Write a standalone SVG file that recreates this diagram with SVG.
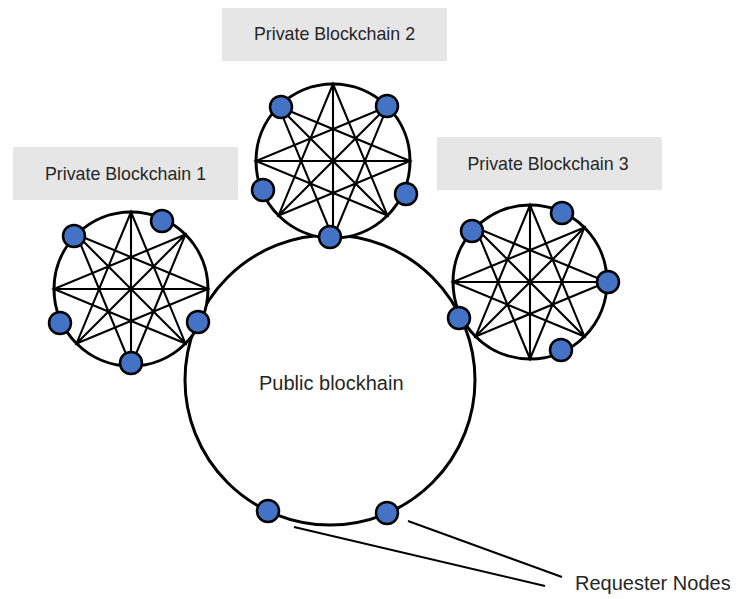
<svg xmlns="http://www.w3.org/2000/svg" xmlns:xlink="http://www.w3.org/1999/xlink" width="743" height="599" viewBox="0 0 743 599">
<style>
.ring{fill:#fff;stroke:#000;stroke-width:3}
.pub{fill:none;stroke:#000;stroke-width:3}
.star{fill:none;stroke:#000;stroke-width:2.1;stroke-linejoin:miter}
.node{fill:#4472c4;stroke:#000;stroke-width:2.5}
.box{fill:#e7e6e6}
.lbl{font-family:"Liberation Sans",Arial,sans-serif;font-size:17.8px;fill:#262626;text-anchor:middle}
.big{font-family:"Liberation Sans",Arial,sans-serif;font-size:20px;fill:#262626}
.conn{stroke:#000;stroke-width:2;fill:none}
</style>
<defs>
<g id="net">
<circle class="ring" cx="0" cy="0" r="77"/>
<path class="star" d="M77,0 L-54.45,-54.45 L0,77 L54.45,-54.45 L-77,0 L54.45,54.45 L0,-77 L-54.45,54.45 Z M77,0 H-77 M0,-77 V77 M54.45,-54.45 L-54.45,54.45 M-54.45,-54.45 L54.45,54.45"/>
</g>
</defs>
<rect width="743" height="599" fill="#fff"/>

<g id="public-blockchain">
<circle class="pub" cx="330" cy="380" r="145"/>
<text class="big" x="259" y="390">Public blockhain</text>
</g>

<g id="private-blockchain-1">
<rect class="box" x="13" y="147" width="225" height="53"/>
<text class="lbl" x="125.5" y="180">Private Blockchain 1</text>
<use xlink:href="#net" href="#net" x="131" y="289"/>
<circle class="node" cx="74" cy="236" r="11"/>
<circle class="node" cx="162" cy="221" r="11"/>
<circle class="node" cx="60" cy="323" r="11"/>
<circle class="node" cx="198" cy="322" r="11"/>
<circle class="node" cx="131" cy="363" r="11"/>
</g>

<g id="private-blockchain-2">
<rect class="box" x="222" y="8" width="225" height="53"/>
<text class="lbl" x="334.5" y="40">Private Blockchain 2</text>
<use xlink:href="#net" href="#net" x="333" y="161"/>
<circle class="node" cx="281" cy="107" r="11"/>
<circle class="node" cx="387" cy="106" r="11"/>
<circle class="node" cx="263" cy="190" r="11"/>
<circle class="node" cx="406" cy="194" r="11"/>
<circle class="node" cx="330" cy="237" r="11"/>
</g>

<g id="private-blockchain-3">
<rect class="box" x="437" y="137" width="225" height="53"/>
<text class="lbl" x="548" y="170">Private Blockchain 3</text>
<use xlink:href="#net" href="#net" x="530" y="282"/>
<circle class="node" cx="472" cy="231" r="11"/>
<circle class="node" cx="562" cy="213" r="11"/>
<circle class="node" cx="608" cy="282" r="11"/>
<circle class="node" cx="459" cy="318" r="11"/>
<circle class="node" cx="561" cy="350" r="11"/>
</g>

<g id="requester-nodes">
<circle class="node" cx="268" cy="511" r="11"/>
<circle class="node" cx="387" cy="513" r="11"/>
<text class="big" x="575" y="590">Requester Nodes</text>
</g>

<g id="connectors">
<line class="conn" x1="294" y1="527" x2="545" y2="586"/>
<line class="conn" x1="408" y1="521" x2="562" y2="577"/>
</g>
</svg>
